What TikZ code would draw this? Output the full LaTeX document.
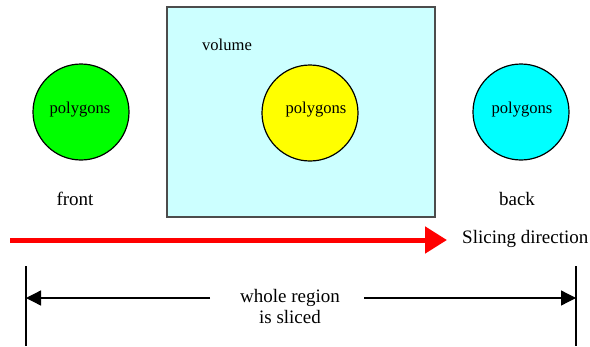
\documentclass[tikz,border=0pt]{standalone}
\usepackage{fontspec}
\setmainfont{Liberation Serif}
\usetikzlibrary{arrows.meta}
\begin{document}
\begin{tikzpicture}[x=1pt,y=-1pt,
  ball/.style={circle,draw=black,line width=1.2pt,minimum size=96pt,inner sep=0pt},
  small/.style={font=\fontsize{16.6}{19}\selectfont,inner sep=0pt},
  lbl/.style={font=\fontsize{19}{22}\selectfont,inner sep=0pt},
  dimarrow/.style={line width=1.3pt,-{Triangle[length=15pt,width=15pt]}},
  tick/.style={line width=1.2pt}]
\useasboundingbox (0,0) rectangle (590,346);
\fill[white] (0,0) rectangle (590,346);
% volume box
\node[draw=black!70,line width=1.5pt,fill={rgb,255:red,204;green,255;blue,255},minimum width=268pt,minimum height=210pt,inner sep=0pt] (vol) at (301,112) {};
\node[small] (voltxt) at (227,45) {volume};
% circles
\node[ball,fill={rgb,255:red,0;green,255;blue,0}] (front) at (81,112) {};
\node[small] (fronttxt) at (80,110) {polygons};
\node[ball,fill={rgb,255:red,255;green,255;blue,0}] (mid) at (310,113) {};
\node[small] (midtxt) at (316,110) {polygons};
\node[ball,fill={rgb,255:red,0;green,255;blue,255}] (back) at (521,112) {};
\node[small] (backtxt) at (522,110) {polygons};
% labels
\node[lbl] (frontlbl) at (75,199) {front};
\node[lbl] (backlbl) at (517,199) {back};
% red arrow
\coordinate (rs) at (10,240);
\coordinate (re) at (447,240);
\draw[red,line width=5pt,-{Triangle[length=22pt,width=26pt]}] (rs) -- (re);
\node[lbl,anchor=west] (slice) at (462,239) {Slicing direction};
% dimension
\coordinate (lt) at (26,266);
\coordinate (lb) at (26,346);
\coordinate (rt) at (576,266);
\coordinate (rb) at (576,346);
\draw[tick] (lt) -- (lb);
\draw[tick] (rt) -- (rb);
\node[lbl,align=center,font=\fontsize{19}{21}\selectfont] (whole) at (290,306) {whole region\\is sliced};
\coordinate (la) at (26,298);
\coordinate (ra) at (576,298);
\coordinate (lw) at (210,298);
\coordinate (rw) at (364,298);
\draw[dimarrow] (lw) -- (la);
\draw[dimarrow] (rw) -- (ra);
\end{tikzpicture}
\end{document}
